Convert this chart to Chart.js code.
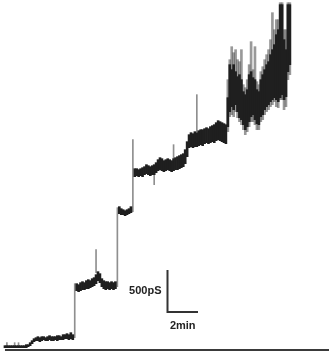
<!DOCTYPE html>
<html>
<head>
<meta charset="utf-8">
<script src="https://cdn.jsdelivr.net/npm/chart.js@4/dist/chart.umd.min.js"></script>
<style>
  html, body { margin: 0; padding: 0; background: #ffffff; }
  #wrap { width: 329px; height: 353px; }
</style>
</head>
<body>
<div id="wrap"><canvas id="trace" width="329" height="353"></canvas></div>
<script>
// Whole-cell conductance recording, shown as a min/max envelope per sample bin.
const SAMPLE_STEP_MIN = 0.125; // minutes per bin

// Dense core of the trace (pS), one low/high pair per bin; null = transition bin
const coreLow = [
  -12, -12, -12, -12, -12, -12, -12, -12, -12, -12, -12, -12, 0, 12, 36, 60,
  72, 72, 60, 72, 84, 72, 72, 84, 72, 72, 84, 72, 84, 84, 84, 96, 96, 84, 96, 84,
  null,
  672, 660, 672, 684, 684, 696, 696, 708, 720, 732, 756, 792, 768, 720, 696, 684, 696, 684, 696, 684, 696,
  null,
  1596, 1584, 1584, 1572, 1584, 1596, 1608,
  null,
  2040, 2052, 2040, 2052, 2040, 2064, 2076, 2064, 2052, 2064, 2064, 2088, 2112, 2124,
  2112, 2100, 2112, 2124, 2112, 2100, 2112, 2124, 2124, 2136, 2148, 2160, 2196, 2280,
  2388, 2400, 2388, 2400, 2400, 2412, 2424, 2412, 2436, 2448,
  2436, 2448, 2460, 2448, 2472, 2484, 2472, 2460, 2448, 2436,
  2640, 2820, 2880, 2844, 2904, 2820, 2748, 2724, 2664, 2604, 2640, 2700, 2760, 2784, 2724, 2676, 2664,
  2760, 2784, 2844, 2880, 2904, 2940, 2964, 2988, 2964, 2940, 2988, 3024, 2964, 3000, 3300, 3384
];
const coreHigh = [
  12, 12, 12, 12, 12, 12, 12, 12, 12, 12, 12, 24, 24, 48, 72, 96,
  108, 120, 108, 120, 120, 108, 120, 132, 120, 120, 120, 132, 132, 120, 144, 144, 156, 144, 168, 144,
  null,
  756, 744, 768, 780, 768, 792, 804, 792, 816, 828, 864, 900, 876, 816, 792, 780, 780, 768, 780, 768, 780,
  null,
  1680, 1656, 1644, 1632, 1644, 1656, 1680,
  null,
  2136, 2136, 2124, 2136, 2148, 2160, 2184, 2172, 2160, 2172, 2184, 2208, 2244, 2268,
  2256, 2232, 2244, 2256, 2244, 2232, 2256, 2268, 2280, 2292, 2304, 2316, 2364, 2460,
  2544, 2568, 2556, 2580, 2568, 2592, 2604, 2604, 2616, 2628,
  2616, 2640, 2652, 2664, 2688, 2712, 2700, 2688, 2676, 2664,
  2988, 3384, 3324, 3384, 3300, 3240, 3264, 3204, 3060, 3024, 3084, 3264, 3300, 3228, 3204, 3084, 3060,
  3204, 3264, 3324, 3384, 3420, 3504, 3564, 3624, 3744, 3804, 4104, 4104, 3684, 3564, 4104, 4104
];

// Fainter spread around the core in the noisy final stretch (pS)
const SPREAD_FIRST_BIN = 115;
const spreadLow = [
  2580, 2760, 2784, 2760, 2820, 2748, 2700, 2664, 2604, 2544, 2580, 2640, 2700, 2700, 2664, 2604, 2604,
  2700, 2724, 2784, 2820, 2844, 2880, 2904, 2940, 2880, 2868, 2964, 2964, 2844, 2880, 3204, 3264
];
const spreadHigh = [
  3204, 3444, 3600, 3528, 3564, 3444, 3420, 3564, 3144, 3108, 3204, 3384, 3660, 3324, 3600, 3180, 3144,
  3300, 3360, 3444, 3504, 3564, 3684, 4008, 3804, 3924, 3924, 4128, 4128, 3804, 3804, 4128, 4128
];

// Fast transitions and brief spikes (time in min, range in pS)
const eventTimes = [0.125, 0.625, 0.875, 4.5, 5.875, 7.25, 8.25, 9.625, 10.875, 12.375];
const eventLow   = [12, 12, 12, 108, 888, 720, 1620, 1944, 2256, 2580];
const eventHigh  = [48, 48, 48, 756, 1164, 1668, 2484, 2064, 2424, 3024];

// Calibration bar
const SCALE_BAR_PS = 500;
const SCALE_BAR_MIN = 2;
const scaleBarLabels = ['500pS', '2min'];

function binsToPoints(lows, highs, firstBin) {
  const pts = [];
  lows.forEach((lo, k) => {
    const hi = highs[k];
    if (lo === null || hi === null) return;
    pts.push({ x: (firstBin + k) * SAMPLE_STEP_MIN, y: [lo, hi] });
  });
  return pts;
}

const corePoints = binsToPoints(coreLow, coreHigh, 0);
const spreadPoints = binsToPoints(spreadLow, spreadHigh, SPREAD_FIRST_BIN);
const eventPoints = eventTimes.map((t, k) => ({ x: t, y: [eventLow[k], eventHigh[k]] }));

// Baseline rule and calibration bar
const overlay = {
  id: 'overlay',
  afterDatasetsDraw(chart) {
    const { ctx, scales: { x, y }, chartArea } = chart;
    ctx.save();
    // baseline rule
    ctx.strokeStyle = '#3a3a3a';
    ctx.lineWidth = 2;
    ctx.beginPath();
    ctx.moveTo(x.getPixelForValue(0), chartArea.bottom);
    ctx.lineTo(chart.width, chartArea.bottom);
    ctx.stroke();

    // calibration bar, anchored in data units
    const t0 = 10.45, g0 = 420;
    const cx = Math.round(x.getPixelForValue(t0)) + 0.5;
    const cy = Math.round(y.getPixelForValue(g0));
    const topY = y.getPixelForValue(g0 + SCALE_BAR_PS);
    const rightX = x.getPixelForValue(t0 + SCALE_BAR_MIN);
    ctx.strokeStyle = '#333333';
    ctx.lineWidth = 2;
    ctx.beginPath();
    ctx.moveTo(cx, topY);
    ctx.lineTo(cx, cy);
    ctx.lineTo(rightX, cy);
    ctx.stroke();

    ctx.fillStyle = '#222222';
    ctx.font = 'bold 11px "Liberation Sans", Arial, sans-serif';
    ctx.textBaseline = 'middle';
    ctx.textAlign = 'right';
    ctx.fillText(scaleBarLabels[0], cx - 6, (topY + cy) / 2);
    ctx.textAlign = 'center';
    ctx.fillText(scaleBarLabels[1], (cx + rightX) / 2, cy + 14);
    ctx.restore();
  }
};

new Chart(document.getElementById('trace'), {
  type: 'bar',
  data: {
    datasets: [
      { label: 'core', data: corePoints, backgroundColor: '#1f1f1f', barThickness: 2, grouped: false, order: 0 },
      { label: 'spread', data: spreadPoints, backgroundColor: 'rgba(70,70,70,0.55)', barThickness: 2, grouped: false, order: 1 },
      { label: 'events', data: eventPoints, backgroundColor: '#8f8f8f', barThickness: 1, grouped: false, order: 2 }
    ]
  },
  options: {
    responsive: false,
    animation: false,
    devicePixelRatio: 1,
    layout: { padding: { left: 0, right: 0, top: 0, bottom: 3 } },
    scales: {
      x: { type: 'linear', min: -0.32, max: 20.9, offset: false, display: false },
      y: { type: 'linear', min: -40, max: 4160, display: false }
    },
    plugins: { legend: { display: false }, tooltip: { enabled: false } }
  },
  plugins: [overlay]
});
</script>
</body>
</html>
